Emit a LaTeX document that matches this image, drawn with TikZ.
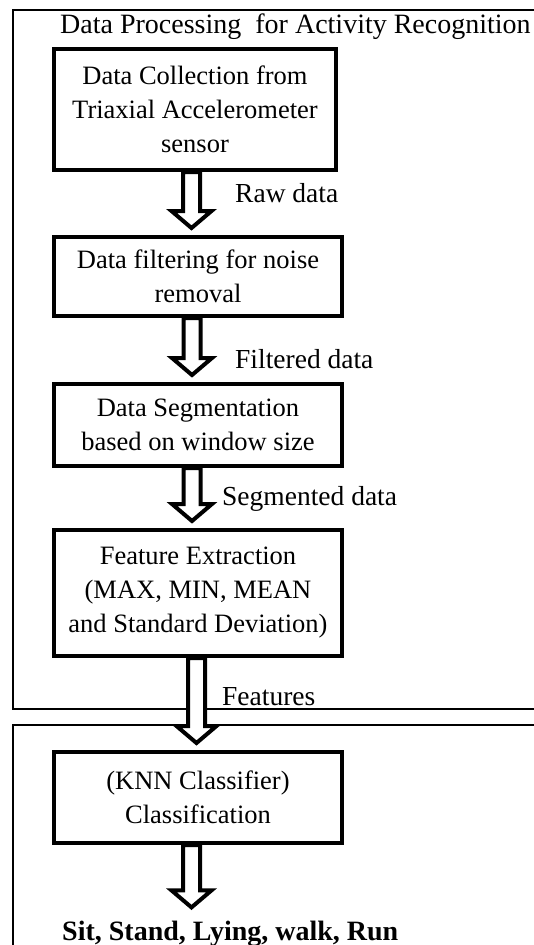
\documentclass[tikz,border=0pt]{standalone}
\usepackage{fontspec}
\setmainfont{Liberation Serif}
\usetikzlibrary{calc}

\begin{document}
\begin{tikzpicture}[x=1pt,y=-1pt,
	stage/.style={draw,line width=4pt,inner sep=0pt,align=center,font=\fontsize{26.5}{34}\selectfont},
	tag/.style={anchor=base west,inner sep=0pt,font=\fontsize{27.5}{33}\selectfont},
	frame/.style={line width=1.2pt},
	flow/.style={draw,fill=white,line width=4pt,line join=miter,to path={
		($(\tikztostart)+(-8.5pt,0)$) -- ($(\tikztotarget)+(-8.5pt,24pt)$) -- ($(\tikztotarget)+(-20pt,24pt)$)
		-- ($(\tikztotarget)+(0,7pt)$) -- ($(\tikztotarget)+(20pt,24pt)$) -- ($(\tikztotarget)+(8.5pt,24pt)$)
		-- ($(\tikztostart)+(8.5pt,0)$) -- cycle}}]

	\useasboundingbox (0,0) rectangle (534,945);
	\clip (0,0) rectangle (534,945);

	\draw[frame] (13,10) rectangle (545,709);
	\draw[frame] (13,725) rectangle (545,960);

	\node[tag,font=\fontsize{28}{33}\selectfont] (title) at (60,33) {Data Processing\ \ for Activity Recognition};

	\node[stage,minimum width=282pt,minimum height=121pt] (collect) at (195,109.5) {Data Collection from\\Triaxial Accelerometer\\sensor};
	\node[stage,minimum width=288pt,minimum height=79pt] (filter) at (198,276.5) {Data filtering for noise\\removal};
	\node[stage,minimum width=288pt,minimum height=82pt] (segment) at (198,425) {Data Segmentation\\based on window size};
	\node[stage,minimum width=288pt,minimum height=126pt] (extract) at (198,593) {Feature Extraction\\(MAX, MIN, MEAN\\and Standard Deviation)};
	\node[stage,minimum width=288pt,minimum height=91pt] (classify) at (198,797.5) {(KNN Classifier)\\Classification};
	\node[tag,font=\fontsize{28}{33}\selectfont\bfseries] (result) at (62,940) {Sit, Stand, Lying, walk, Run};

	\node[tag] (raw) at (235,202) {Raw data};
	\node[tag] (filtered) at (235,368) {Filtered data};
	\node[tag] (segmented) at (222,505) {Segmented data};
	\node[tag] (features) at (222,705) {Features};

	\draw[flow] ([xshift=-3.5pt]collect.south) to ([xshift=-6.5pt]filter.north);
	\draw[flow] ([xshift=-6pt]filter.south) to ([xshift=-6pt]segment.north);
	\draw[flow] ([xshift=-6pt]segment.south) to ([xshift=-6pt]extract.north);
	\draw[flow] ([xshift=-1.5pt]extract.south) to ([xshift=-1.5pt]classify.north);
	\draw[flow] ([xshift=-6.5pt]classify.south) to ([xshift=-6.5pt,yshift=6pt]result.north -| classify.south);
\end{tikzpicture}
\end{document}
